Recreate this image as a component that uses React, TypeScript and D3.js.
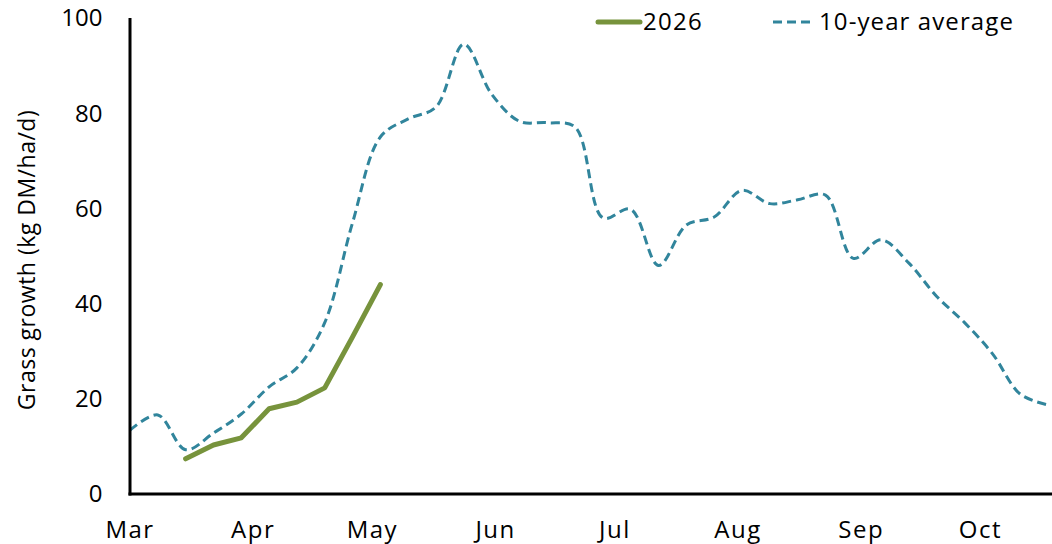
import React from 'react'
import * as d3 from 'd3'

// weekly points, starting on 1 March
const avgStart = new Date(2026, 2, 1)
const avgValues = [
  13.4, 16.6, 9.3, 12.8, 16.8, 22.5, 26.5, 36, 57, 75, 78.8, 81.3, 94.5, 84,
  78.3, 78, 77.1, 58, 59.8, 48, 56.5, 58.2, 63.8, 61, 61.8, 62.8, 49.5, 53.4,
  48.5, 41.5, 36, 29.5, 21, 18.7
]

const curStart = new Date(2026, 2, 15)
const curValues = [7.4, 10.3, 11.8, 17.9, 19.3, 22.3, 33, 44]

const monthTicks = ['Mar', 'Apr', 'May', 'Jun', 'Jul', 'Aug', 'Sep', 'Oct']
const yTicks = [0, 20, 40, 60, 80, 100]

const W = 1052
const H = 544
const FONT = '"Open Sans", sans-serif'
const GREEN = '#77933C'
const TEAL = '#31859C'

const weekly = (start: Date, vals: number[]) =>
  vals.map((v, i) => ({ date: d3.timeDay.offset(start, i * 7), v }))

export default function App() {
  const x = d3
    .scaleTime()
    .domain([new Date(2026, 2, 1), new Date(2026, 9, 19)])
    .range([130, 1052])
  const y = d3.scaleLinear().domain([0, 100]).range([494, 18])

  const avg = weekly(avgStart, avgValues)
  const cur = weekly(curStart, curValues)

  const smooth = d3
    .line<{ date: Date; v: number }>()
    .x(d => x(d.date))
    .y(d => y(d.v))
    .curve(d3.curveCatmullRom.alpha(0.5))
  const straight = d3
    .line<{ date: Date; v: number }>()
    .x(d => x(d.date))
    .y(d => y(d.v))

  const months = monthTicks.map((m, i) => ({ m, date: new Date(2026, 2 + i, 1) }))

  return (
    <svg
      width={W}
      height={H}
      style={{ position: 'absolute', left: 0, top: 0, background: '#fff' }}
      fontFamily={FONT}
    >
      {/* y axis labels */}
      {yTicks.map(t => (
        <text key={t} x={102.5} y={y(t)} dy="0.35em" textAnchor="end" fontSize={24} fill="#000">
          {t}
        </text>
      ))}
      <text
        transform={`translate(27,260) rotate(-90)`}
        textAnchor="middle"
        dy="0.35em"
        fontSize={23}
        letterSpacing={0.5}
        fill="#000"
      >
        Grass growth (kg DM/ha/d)
      </text>

      {/* month labels */}
      {months.map(d => (
        <text
          key={d.m}
          x={x(d.date)}
          y={538}
          textAnchor="middle"
          fontSize={24}
          letterSpacing={1.5}
          fill="#000"
        >
          {d.m}
        </text>
      ))}

      {/* series */}
      <path d={smooth(avg) ?? ''} fill="none" stroke={TEAL} strokeWidth={3} strokeDasharray="9,5" />
      <path
        d={straight(cur) ?? ''}
        fill="none"
        stroke={GREEN}
        strokeWidth={5}
        strokeLinecap="round"
        strokeLinejoin="round"
      />

      {/* axes */}
      <line x1={130} x2={130} y1={y(100)} y2={y(0) + 1.5} stroke="#000" strokeWidth={3} />
      <line x1={128.5} x2={W} y1={y(0)} y2={y(0)} stroke="#000" strokeWidth={3} />

      {/* legend */}
      <line x1={598} x2={640} y1={22} y2={22} stroke={GREEN} strokeWidth={5} strokeLinecap="round" />
      <text x={643} y={22} dy="0.35em" fontSize={24} letterSpacing={1.3} fill="#000">2026</text>
      <line x1={773} x2={811} y1={22} y2={22} stroke={TEAL} strokeWidth={3} strokeDasharray="9,5" />
      <text x={819} y={22} dy="0.35em" fontSize={24} letterSpacing={1.1} fill="#000">10-year average</text>
    </svg>
  )
}
